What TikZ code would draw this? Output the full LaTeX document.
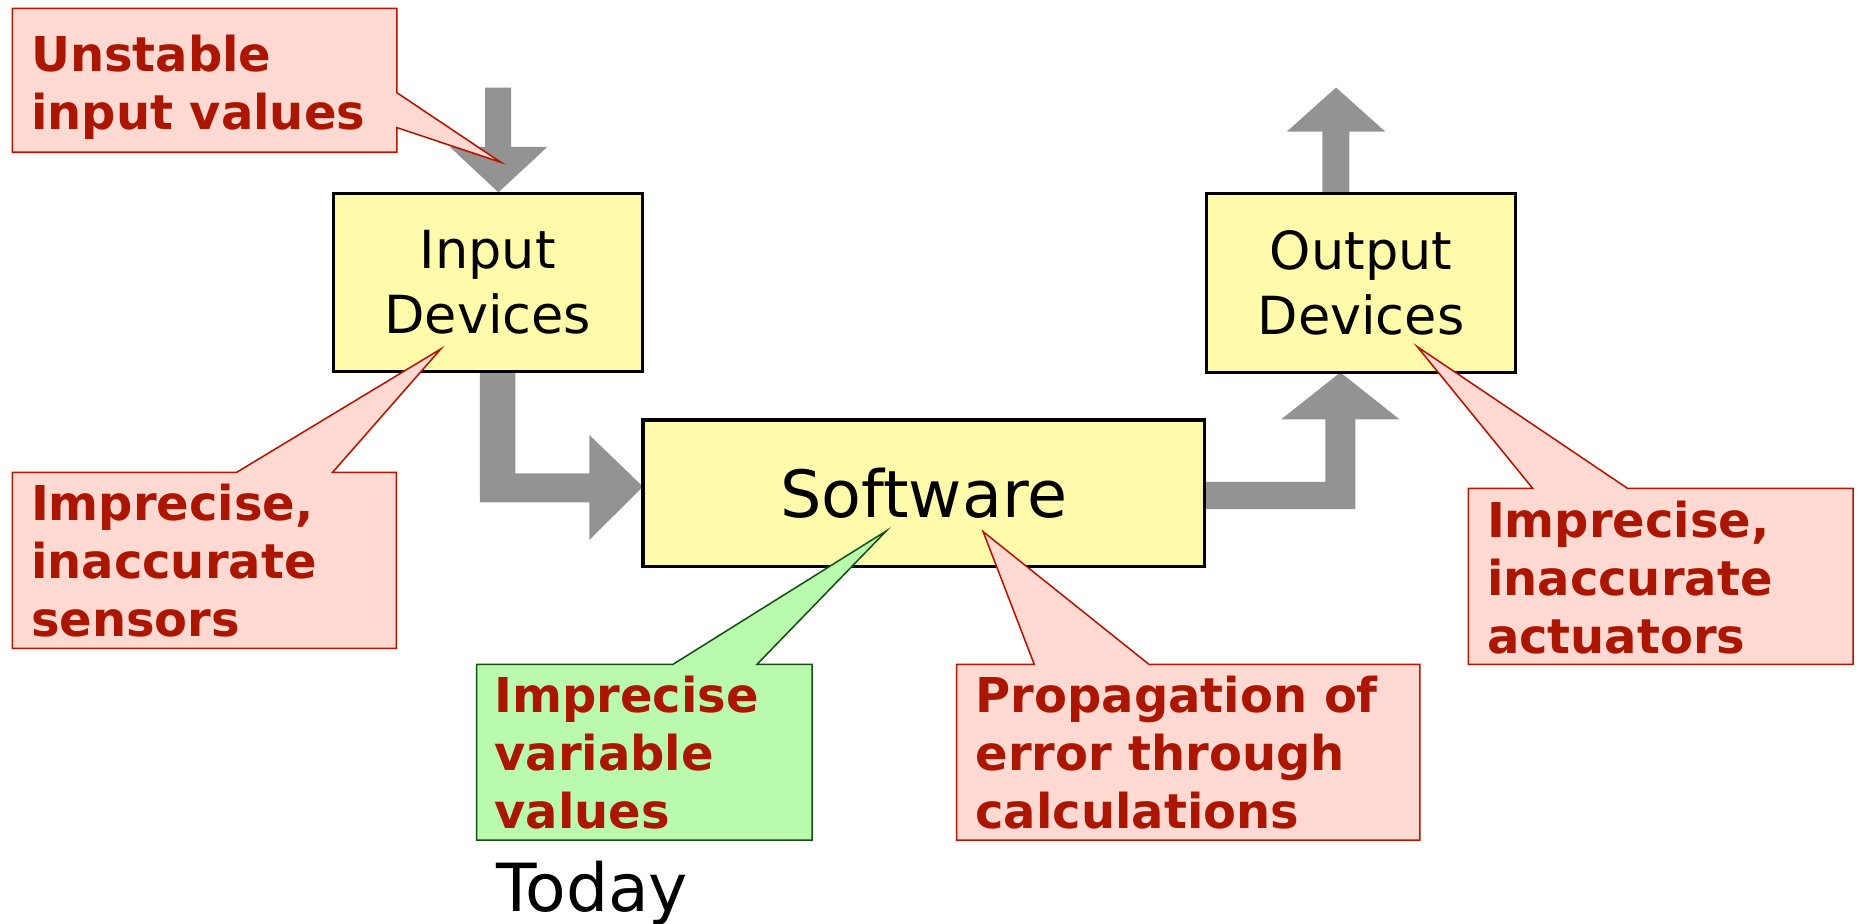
\documentclass[tikz,border=0pt]{standalone}
\usepackage{fontspec}
\setmainfont{DejaVu Sans}
\definecolor{boxyellow}{RGB}{255,251,170}
\definecolor{arrowgray}{RGB}{147,147,147}
\definecolor{pinkfill}{RGB}{255,217,210}
\definecolor{pinkline}{RGB}{180,20,0}
\definecolor{redtext}{RGB}{170,22,0}
\definecolor{greenfill}{RGB}{185,250,175}
\definecolor{greenline}{RGB}{20,80,20}
\tikzset{
  ybox/.style={draw=black, line width=2.7pt, fill=boxyellow, inner sep=0pt, align=center},
  blockarrow/.style={fill=arrowgray, draw=none},
  pinkcall/.style={fill=pinkfill, draw=pinkline, line width=1.3pt, line join=miter},
  greencall/.style={fill=greenfill, draw=greenline, line width=1.3pt, line join=miter},
  calltext/.style={anchor=base west, inner sep=0pt, text=redtext, font=\fontsize{40.5}{49}\selectfont\bfseries},
}
\begin{document}
\begin{tikzpicture}[x=1pt, y=-1pt]
\useasboundingbox (0,0) rectangle (1568,779);

% block arrows
\fill[blockarrow] (409.4,74) -- (431.4,74) -- (431.4,124) -- (461.9,124) -- (420.6,162.3) -- (379.6,124) -- (409.4,124) -- cycle;
\fill[blockarrow] (405,314.5) -- (435,314.5) -- (435,399.5) -- (497.4,399.5) -- (497.4,367.1) -- (542.6,410.7) -- (497.4,455.7) -- (497.4,424) -- (405,424) -- cycle;
\fill[blockarrow] (1017.8,406.6) -- (1118.4,406.6) -- (1118.4,354) -- (1081,354) -- (1131.2,314.3) -- (1181.2,354) -- (1143.8,354) -- (1143.8,429.7) -- (1017.8,429.7) -- cycle;
\fill[blockarrow] (1116,162.3) -- (1138.8,162.3) -- (1138.8,111) -- (1169,111) -- (1127.5,73.9) -- (1086,111) -- (1116,111) -- cycle;

% yellow boxes
\node[ybox, minimum width=261pt, minimum height=150pt, font=\fontsize{44.3}{54.5}\selectfont] (in) at (411.7,238.3) {Input\\Devices};
\node[ybox, minimum width=474pt, minimum height=124pt, font=\fontsize{55}{60}\selectfont] (sw) at (779.7,416.4) {Software};
\node[ybox, minimum width=261pt, minimum height=151pt, font=\fontsize{44.3}{54.5}\selectfont] (out) at (1148.6,238.6) {Output\\Devices};

% callouts
\draw[pinkcall] (10.5,7) -- (334.9,7) -- (334.9,78.2) -- (422.7,137) -- (334.9,107.7) -- (334.9,128.5) -- (10.5,128.5) -- cycle;
\node[calltext] (tA) at (26,60.5) {\vtop{\hbox{Unstable}\hbox{input values}}};

\draw[pinkcall] (10.5,398.6) -- (199.7,398.6) -- (372,294.5) -- (280.7,398.6) -- (334.5,398.6) -- (334.5,547.1) -- (10.5,547.1) -- cycle;
\node[calltext] (tB) at (26,439.5) {\vtop{\hbox{Imprecise,}\hbox{inaccurate}\hbox{sensors}}};

\draw[greencall] (402.2,560.6) -- (568,560.6) -- (747.9,448.1) -- (638.9,560.6) -- (685.4,560.6) -- (685.4,708.9) -- (402.2,708.9) -- cycle;
\node[calltext] (tC) at (417,601.5) {\vtop{\hbox{Imprecise}\hbox{variable}\hbox{values}}};

\draw[pinkcall] (807.3,560.6) -- (872.8,560.6) -- (829.7,448.7) -- (969.6,560.6) -- (1198.3,560.6) -- (1198.3,708.9) -- (807.3,708.9) -- cycle;
\node[calltext] (tD) at (823,601.5) {\vtop{\hbox{Propagation of}\hbox{error through}\hbox{calculations}}};

\draw[pinkcall] (1239.1,412.2) -- (1293.5,412.2) -- (1196.1,292.6) -- (1373.6,412.2) -- (1563.8,412.2) -- (1563.8,560.6) -- (1239.1,560.6) -- cycle;
\node[calltext] (tE) at (1254.7,453.2) {\vtop{\hbox{Imprecise,}\hbox{inaccurate}\hbox{actuators}}};

\node[anchor=base west, inner sep=0pt, font=\fontsize{56}{60}\selectfont] (today) at (418.5,769.4) {Today};
\end{tikzpicture}
\end{document}
